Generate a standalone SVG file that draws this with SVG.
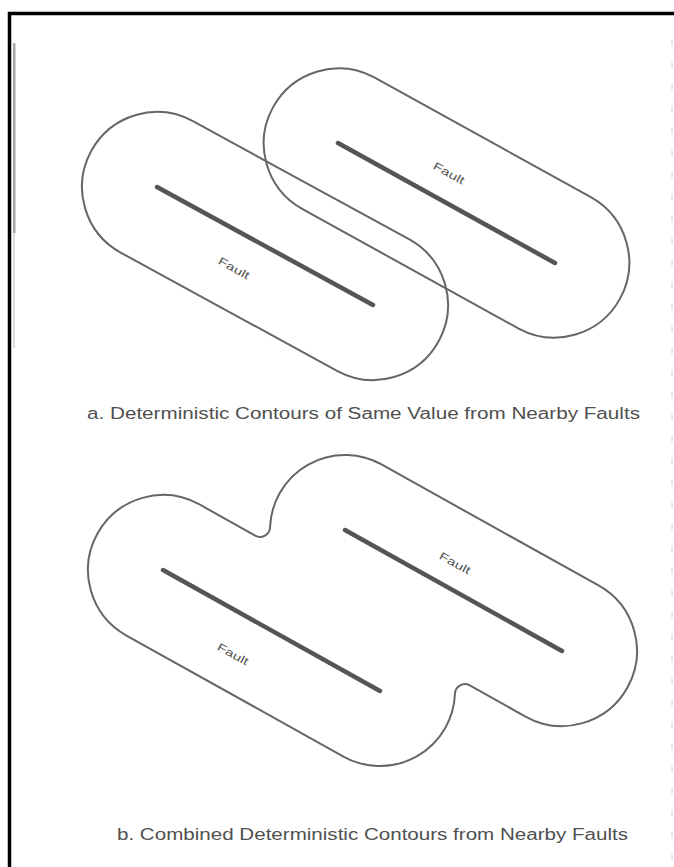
<svg xmlns="http://www.w3.org/2000/svg" width="674" height="867" viewBox="0 0 674 867">
  <style>
    .contour { fill: none; stroke: #666; stroke-width: 2; stroke-linejoin: round; }
    .fault { fill: none; stroke: #555; stroke-width: 4.5; stroke-linecap: round; }
    .label { font-family: "Liberation Sans", Arial, sans-serif; font-size: 11px; fill: #555; }
    .caption { font-family: "Liberation Sans", Arial, sans-serif; font-size: 16px; fill: #505050; }
  </style>
  <rect x="0" y="0" width="674" height="867" fill="#ffffff"/>
  <!-- frame -->
  <g id="frame">
    <path d="M9.5,867 V13.5 H674" fill="none" stroke="#000" stroke-width="3.5"/>
    <rect x="13" y="43" width="2.5" height="190" fill="#a8a8a8"/>
    <rect x="13" y="233" width="2" height="115" fill="#dcdcdc"/>
    <line x1="672" y1="40" x2="672" y2="860" stroke="#d4d4d4" stroke-width="1" stroke-dasharray="6 16"/>
  </g>

  <!-- a. separate contours -->
  <g id="contour-a-left">
    <path class="contour" d="M192.96,121.18 L408.96,239.18 A75,75 0 0 1 337.04,370.82 L121.04,252.82 A75,75 0 0 1 192.96,121.18 Z"/>
  </g>
  <g id="contour-a-right">
    <path class="contour" d="M374.29,77.37 L591.29,197.37 A75,75 0 0 1 518.71,328.63 L301.71,208.63 A75,75 0 0 1 374.29,77.37 Z"/>
  </g>
  <g id="fault-a-left">
    <line class="fault" x1="157" y1="187" x2="373" y2="305"/>
    <text class="label" x="234" y="268" text-anchor="middle" dominant-baseline="central" textLength="34" lengthAdjust="spacingAndGlyphs" transform="rotate(28.7 234 268)">Fault</text>
  </g>
  <g id="fault-a-right">
    <line class="fault" x1="338" y1="143" x2="555" y2="263"/>
    <text class="label" x="449" y="173" text-anchor="middle" dominant-baseline="central" textLength="34" lengthAdjust="spacingAndGlyphs" transform="rotate(28.7 449 173)">Fault</text>
  </g>
  <g id="caption-a">
    <text class="caption" x="87" y="419" textLength="553" lengthAdjust="spacingAndGlyphs">a. Deterministic Contours of Same Value from Nearby Faults</text>
  </g>

  <!-- b. combined contour -->
  <g id="contour-b-combined">
    <path class="contour" d="M199.53,504.49 L255.19,535.53 A10,10 0 0 0 270.05,527.18 A75,75 0 0 1 381.53,464.49 L598.53,585.49 A75,75 0 0 1 525.47,716.51 L469.81,685.47 A10,10 0 0 0 454.95,693.82 A75,75 0 0 1 343.47,756.51 L126.47,635.51 A75,75 0 0 1 199.53,504.49 Z"/>
  </g>
  <g id="fault-b-left">
    <line class="fault" x1="163" y1="570" x2="380" y2="691"/>
    <text class="label" x="233" y="654" text-anchor="middle" dominant-baseline="central" textLength="34" lengthAdjust="spacingAndGlyphs" transform="rotate(28.7 233 654)">Fault</text>
  </g>
  <g id="fault-b-right">
    <line class="fault" x1="345" y1="530" x2="562" y2="651"/>
    <text class="label" x="455" y="563" text-anchor="middle" dominant-baseline="central" textLength="34" lengthAdjust="spacingAndGlyphs" transform="rotate(28.7 455 563)">Fault</text>
  </g>
  <g id="caption-b">
    <text class="caption" x="117" y="840" textLength="511" lengthAdjust="spacingAndGlyphs">b. Combined Deterministic Contours from Nearby Faults</text>
  </g>
  <g id="connectors"/>
</svg>
